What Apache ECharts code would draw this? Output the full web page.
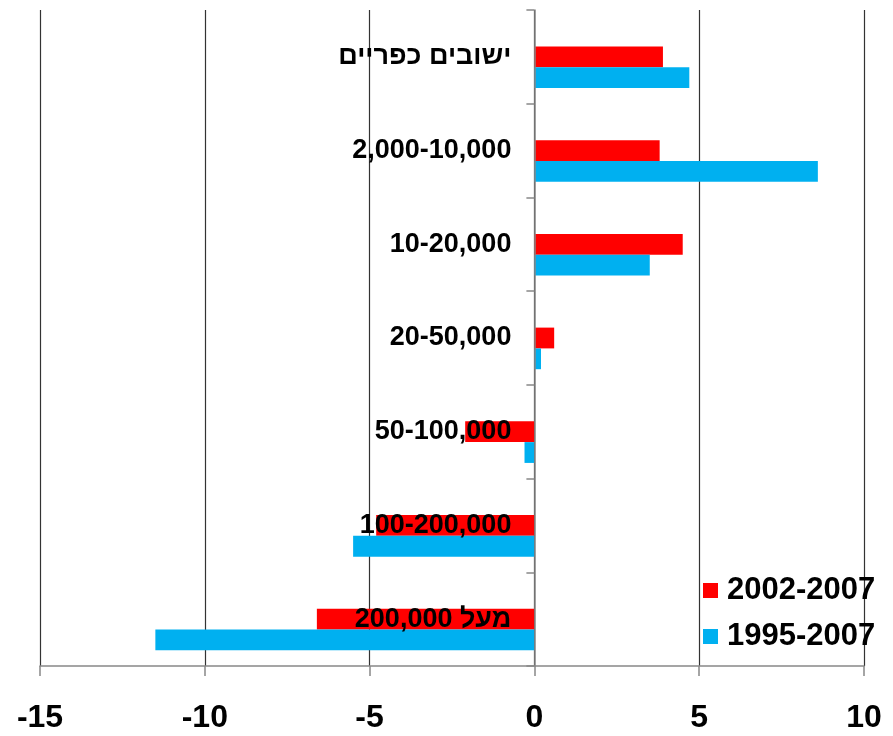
<!DOCTYPE html>
<html>
<head>
<meta charset="utf-8">
<script src="https://cdn.jsdelivr.net/npm/echarts@6/dist/echarts.min.js"></script>
<style>
  html, body { margin: 0; padding: 0; background: #fff; }
  #chart { width: 893px; height: 736px; }
</style>
</head>
<body>
<div id="chart"></div>
<script>
// Settlement-size groups, top to bottom
const categories = [
  'ישובים כפריים',
  '2,000-10,000',
  '10-20,000',
  '20-50,000',
  '50-100,000',
  '100-200,000',
  '\u202Bמעל 200,000\u202C'
];
const seriesNames = ['2002-2007', '1995-2007'];
const change2002to2007 = [3.9, 3.8, 4.5, 0.6, -2.1, -4.8, -6.6];
const change1995to2007 = [4.7, 8.6, 3.5, 0.2, -0.3, -5.5, -11.5];
const xTicks = { min: -15, max: 10, step: 5 };

const FONT = '"Liberation Sans", Arial, "DejaVu Sans", sans-serif';
const BAR_W = 20.8;

const W = 893, GRID_L = 40, GRID_R = 29;
// the category axis sits on the zero line: shift it in from the grid's left edge
const plotW = W - GRID_L - GRID_R;
const zeroShift = plotW * (0 - xTicks.min) / (xTicks.max - xTicks.min);

const chart = echarts.init(document.getElementById('chart'), null, { renderer: 'canvas' });

chart.setOption({
  animation: false,
  backgroundColor: '#ffffff',
  textStyle: { fontFamily: FONT },
  grid: { left: GRID_L, right: GRID_R, top: 10, bottom: 70, containLabel: false, outerBoundsMode: 'none' },
  legend: {
    data: seriesNames,
    orient: 'vertical',
    left: 703,
    top: 575,
    itemWidth: 15,
    itemHeight: 15,
    itemGap: 15,
    icon: 'rect',
    textStyle: { fontFamily: FONT, fontSize: 31, fontWeight: 'bold', color: '#000', lineHeight: 30, padding: [0, 0, 0, 4] },
    padding: 0
  },
  xAxis: {
    type: 'value',
    min: xTicks.min,
    max: xTicks.max,
    interval: xTicks.step,
    axisLine: { show: true, onZero: false, lineStyle: { color: '#888', width: 1.5 } },
    axisTick: { show: true, length: 10, lineStyle: { color: '#888', width: 1.5 } },
    axisLabel: { margin: 36, fontFamily: FONT, fontSize: 32, fontWeight: 'bold', color: '#000' },
    splitLine: { show: true, lineStyle: { color: '#333', width: 1.2 } }
  },
  yAxis: {
    type: 'category',
    data: categories,
    inverse: true,
    z: 10,
    offset: -zeroShift,
    axisLine: { show: true, onZero: false, lineStyle: { color: '#888', width: 1.5 } },
    axisTick: { show: true, length: 8, lineStyle: { color: '#888', width: 1.5 } },
    axisLabel: {
      margin: 23, fontFamily: FONT, fontSize: 27, fontWeight: 'bold', color: '#000',
      padding: [4, 0, 0, 0]
    },
    splitLine: { show: false }
  },
  series: [
    {
      // empty leading slot that keeps the bar pair below the band centre
      name: 'spacer',
      type: 'bar',
      barWidth: BAR_W,
      barGap: '0%',
      data: categories.map(() => '-'),
      silent: true
    },
    {
      name: seriesNames[0],
      type: 'bar',
      barWidth: BAR_W,
      barGap: '0%',
      itemStyle: { color: '#FF0000' },
      data: change2002to2007
    },
    {
      name: seriesNames[1],
      type: 'bar',
      barWidth: BAR_W,
      barGap: '0%',
      itemStyle: { color: '#00B0F0' },
      data: change1995to2007
    }
  ]
});
</script>
</body>
</html>
